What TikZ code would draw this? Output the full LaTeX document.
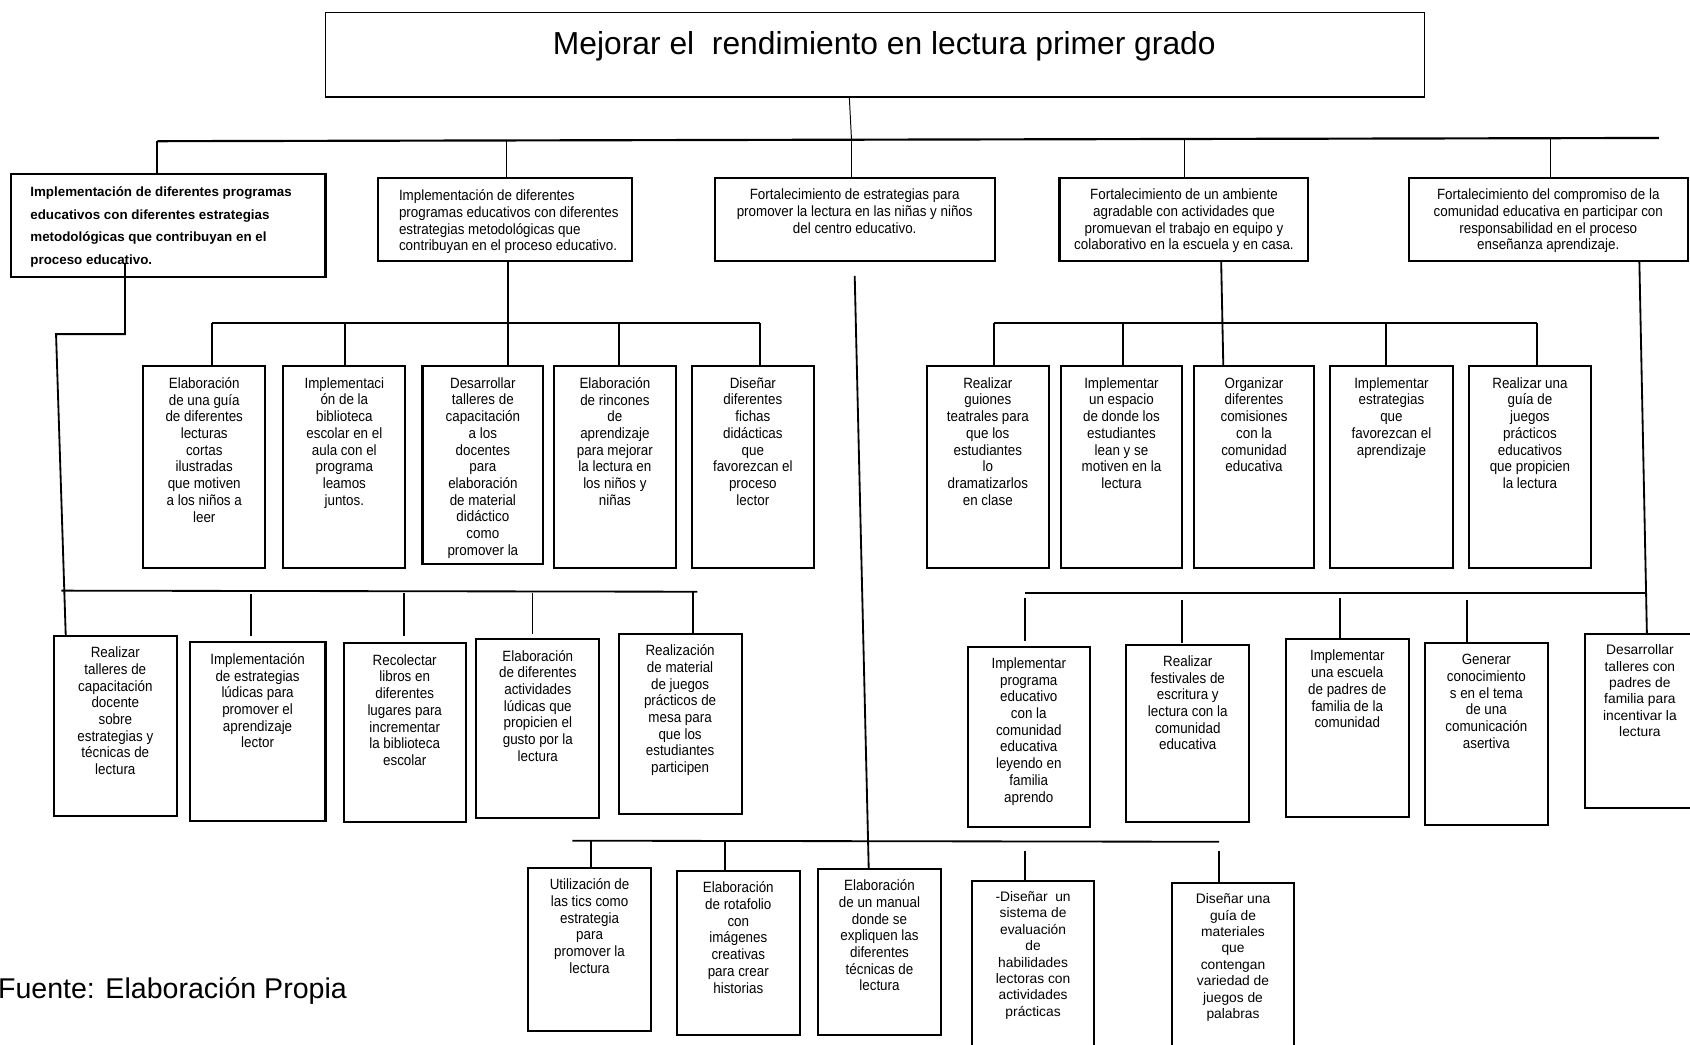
\documentclass[tikz,border=0pt]{standalone}
\usepackage{fontspec}
\setmainfont{Liberation Sans}
\newfontfamily\narf[FakeStretch=0.9]{Liberation Sans}
\tikzset{
 boxst/.style={draw, line width=1.9pt, rectangle, inner sep=0pt, outer sep=0pt},
 ntxt/.style={font=\narf\fontsize{13.8}{15.5}\selectfont, align=center, inner sep=0pt, execute at begin node={\rule{0pt}{11pt}}},
 rtxt/.style={font=\fontsize{12.8}{15.2}\selectfont, align=center, inner sep=0pt, execute at begin node={\rule{0pt}{11pt}}},
 conn/.style={line width=1.7pt},
 thinl/.style={line width=0.9pt},
}
\newcommand{\bxbox}[6][]{%
  \pgfmathsetmacro{\bw}{#5-#3}\pgfmathsetmacro{\bh}{#6-#4}%
  \node[boxst,#1,minimum width=\bw pt,minimum height=\bh pt,anchor=north west] (#2) at (#3,#4) {};}
\newcommand{\bxx}[7][ntxt]{%
  \bxbox{#2}{#3}{#4}{#5}{#6}%
  \node[#1,anchor=north] (#2t) at ([yshift=-10pt]#2.north) {#7};}
\begin{document}
\begin{tikzpicture}[x=1pt,y=-1pt]
\useasboundingbox[fill=white] (0,0) rectangle (1568,969);
% top
\bxbox[line width=1pt]{T}{302}{12}{1322}{90}
\node[font=\fontsize{29.5}{34}\selectfont, anchor=base, inner sep=0pt] (title) at (820.5,51) {Mejorar el \ rendimiento en lectura primer grado};
\draw[thinl] (788,0 |- T.south) -- (790,129);
\draw[line width=2pt] (146,131) -- (1539,128);
% level 1
\bxbox{B1}{10}{161}{302}{257}
\node[font=\bfseries\fontsize{12.4}{21}\selectfont, align=left, inner sep=0pt, anchor=north west, execute at begin node={\rule{0pt}{11pt}}] (B1t) at (28,173) {Implementación de diferentes programas\\educativos con diferentes estrategias\\metodológicas que contribuyan en el\\proceso educativo.};
\bxbox{B2}{351}{165}{586}{242}
\node[ntxt, align=left, anchor=north west] (B2t) at (370,176) {Implementación de diferentes\\programas educativos con diferentes\\estrategias metodológicas que\\contribuyan en el proceso educativo.};
\bxx{B3}{663}{165}{923}{242}{Fortalecimiento de estrategias para\\promover la lectura en las niñas y niños\\del centro educativo.}
\bxx{B4}{983}{165}{1214}{242}{Fortalecimiento de un ambiente\\agradable con actividades que\\promuevan el trabajo en equipo y\\colaborativo en la escuela y en casa.}
\bxx{B5}{1307}{165}{1566}{242}{Fortalecimiento del compromiso de la\\comunidad educativa en participar con\\responsabilidad en el proceso\\enseñanza aprendizaje.}
\draw[conn] (146,131) -- (146,0 |- B1.north);
\draw[thinl] (470,130) -- (470,0 |- B2.north);
\draw[thinl] (790,129) -- (790,0 |- B3.north);
\draw[thinl] (1099,129) -- (1099,0 |- B4.north);
\draw[thinl] (1439,128) -- (1439,0 |- B5.north);
% row A
\bxx{A1}{133}{340}{246}{527}{Elaboración\\de una guía\\de diferentes\\lecturas\\cortas\\ilustradas\\que motiven\\a los niños a\\leer}
\bxx{A2}{263}{340}{376}{527}{Implementaci\\ón de la\\biblioteca\\escolar en el\\aula con el\\programa\\leamos\\juntos.}
\bxx{A3}{392}{340}{504}{523}{Desarrollar\\talleres de\\capacitación\\a los\\docentes\\para\\elaboración\\de material\\didáctico\\como\\promover la}
\bxx{A4}{514}{340}{627}{527}{Elaboración\\de rincones\\de\\aprendizaje\\para mejorar\\la lectura en\\los niños y\\niñas}
\bxx{A5}{642}{340}{755}{527}{Diseñar\\diferentes\\fichas\\didácticas\\que\\favorezcan el\\proceso\\lector}
\draw[conn] (471,0 |- B2.south) -- (471,0 |- A3.north);
\draw[conn] (197,300) -- (705,300);
\draw[conn] (197,300) -- (197,0 |- A1.north);
\draw[conn] (320,300) -- (320,0 |- A2.north);
\draw[conn] (574,300) -- (574,0 |- A4.north);
\draw[conn] (705,300) -- (705,0 |- A5.north);
% row C
\bxx{C1}{50}{590}{164}{757}{Realizar\\talleres de\\capacitación\\docente\\sobre\\estrategias y\\técnicas de\\lectura}
\bxx{C2}{176}{596}{302}{762}{Implementación\\de estrategias\\lúdicas para\\promover el\\aprendizaje\\lector}
\bxx{C3}{319}{597}{432}{763}{Recolectar\\libros en\\diferentes\\lugares para\\incrementar\\la biblioteca\\escolar}
\bxx{C4}{442}{593}{556}{759}{Elaboración\\de diferentes\\actividades\\lúdicas que\\propicien el\\gusto por la\\lectura}
\bxx{C5}{574}{588}{688}{755}{Realización\\de material\\de juegos\\prácticos de\\mesa para\\que los\\estudiantes\\participen}
\draw[conn] (116,244) -- (116,310) -- (52,310) -- (61,0 |- C1.north);
\draw[conn] (57,548) -- (647,549);
\draw[conn] (233,551) -- (233,590);
\draw[conn] (375,550) -- (375,590);
\draw[conn] (494,550) -- (494,588);
\draw[conn] (643,549) -- (643,0 |- C5.north);
% row D
\bxx{D1}{490}{805}{604}{957}{Utilización de\\las tics como\\estrategia\\para\\promover la\\lectura}
\bxx{D2}{628}{808}{742}{960}{Elaboración\\de rotafolio\\con\\imágenes\\creativas\\para crear\\historias}
\bxx{D3}{759}{806}{873}{960}{Elaboración\\de un manual\\donde se\\expliquen las\\diferentes\\técnicas de\\lectura}
\bxx[rtxt]{D4}{902}{817}{1015}{980}{-Diseñar \ un\\sistema de\\evaluación\\de\\habilidades\\lectoras con\\actividades\\prácticas}
\bxx[rtxt]{D5}{1087}{819}{1201}{980}{Diseñar una\\guía de\\materiales\\que\\contengan\\variedad de\\juegos de\\palabras}
\draw[conn] (793,256) -- (806,0 |- D3.north);
\draw[conn] (531,780) -- (1131,781);
\draw[conn] (548,780) -- (548,0 |- D1.north);
\draw[conn] (673,780) -- (673,0 |- D2.north);
\draw[conn] (951,790) -- (951,0 |- D4.north);
\draw[conn] (1131,790) -- (1131,0 |- D5.north);
% row E
\bxx{E1}{860}{340}{973}{527}{Realizar\\guiones\\teatrales para\\que los\\estudiantes\\lo\\dramatizarlos\\en clase}
\bxx{E2}{984}{340}{1097}{527}{Implementar\\un espacio\\de donde los\\estudiantes\\lean y se\\motiven en la\\lectura}
\bxx{E3}{1108}{340}{1219}{527}{Organizar\\diferentes\\comisiones\\con la\\comunidad\\educativa}
\bxx{E4}{1234}{340}{1348}{527}{Implementar\\estrategias\\que\\favorezcan el\\aprendizaje}
\bxx{E5}{1363}{340}{1476}{527}{Realizar una\\guía de\\juegos\\prácticos\\educativos\\que propicien\\la lectura}
\draw[conn] (1133,0 |- B4.south) -- (1135,0 |- E3.north);
\draw[conn] (922,300) -- (1426,300);
\draw[conn] (922,300) -- (922,0 |- E1.north);
\draw[conn] (1042,300) -- (1042,0 |- E2.north);
\draw[conn] (1286,300) -- (1286,0 |- E4.north);
\draw[conn] (1426,300) -- (1426,0 |- E5.north);
% row F
\bxx{F1}{898}{600}{1011}{767}{Implementar\\programa\\educativo\\con la\\comunidad\\educativa\\leyendo en\\familia\\aprendo}
\bxx{F2}{1045}{598}{1159}{763}{Realizar\\festivales de\\escritura y\\lectura con la\\comunidad\\educativa}
\bxx{F3}{1193}{593}{1307}{758}{Implementar\\una escuela\\de padres de\\familia de la\\comunidad}
\bxx{F4}{1322}{597}{1436}{765}{Generar\\conocimiento\\s en el tema\\de una\\comunicación\\asertiva}
\bxx[rtxt]{F5}{1471}{588}{1572}{750}{Desarrollar\\talleres con\\padres de\\familia para\\incentivar la\\lectura}
\draw[conn] (1521,0 |- B5.south) -- (1528,0 |- F5.north);
\draw[conn] (951,550) -- (1528,550);
\draw[conn] (951,555) -- (951,595);
\draw[conn] (1097,557) -- (1097,597);
\draw[conn] (1243,555) -- (1243,594);
\draw[conn] (1361,557) -- (1361,597);
% source
\node[font=\fontsize{26.5}{30}\selectfont, anchor=base west, inner sep=0pt] (src) at (-2,926.5) {Fuente: Elaboración Propia};
\end{tikzpicture}
\end{document}
